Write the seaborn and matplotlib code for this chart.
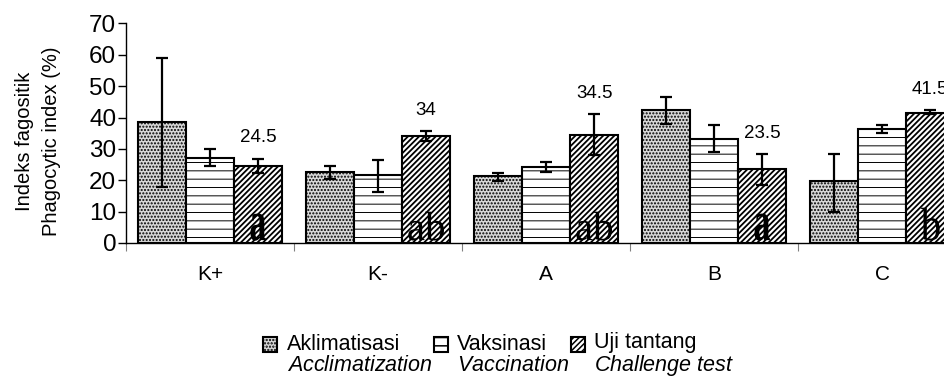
import numpy as np
import pandas as pd
import matplotlib
matplotlib.use('Agg')
import matplotlib.pyplot as plt
import seaborn as sns
from matplotlib.patches import Rectangle, PathPatch
from matplotlib.legend_handler import HandlerPatch
from matplotlib.textpath import TextPath
from matplotlib.font_manager import FontProperties
from matplotlib.transforms import Affine2D

# data
groups = ['K+', 'K-', 'A', 'B', 'C']
phases = ['Aklimatisasi', 'Vaksinasi', 'Uji tantang']
phases_en = ['Acclimatization', 'Vaccination', 'Challenge\\ test']

aklimatisasi = [38.5, 22.6, 21.2, 42.4, 19.6]
aklim_lo = [18.0, 20.4, 19.6, 37.8, 9.9]
aklim_hi = [59.0, 24.6, 22.3, 46.4, 28.5]

vaksinasi = [27.2, 21.7, 24.2, 33.1, 36.5]
vaks_lo = [24.4, 16.2, 22.6, 29.0, 35.0]
vaks_hi = [30.0, 26.5, 25.7, 37.5, 37.5]

uji_tantang = [24.5, 34.0, 34.5, 23.5, 41.5]
uji_lo = [22.4, 32.5, 28.1, 18.5, 41.0]
uji_hi = [26.9, 35.7, 41.0, 28.4, 42.3]

uji_labels = ['24.5', '34', '34.5', '23.5', '41.5']
notasi = ['a', 'ab', 'ab', 'a', 'b']

plt.rcParams['font.family'] = ['Liberation Sans', 'DejaVu Sans']
plt.rcParams['mathtext.fontset'] = 'custom'
plt.rcParams['mathtext.it'] = 'Liberation Sans:italic'
plt.rcParams['mathtext.rm'] = 'Liberation Sans'
plt.rcParams['hatch.linewidth'] = 1.1

df = pd.DataFrame({
    'group': groups * 3,
    'phase': np.repeat(phases, len(groups)),
    'value': aklimatisasi + vaksinasi + uji_tantang,
})
lows = [aklim_lo, vaks_lo, uji_lo]
highs = [aklim_hi, vaks_hi, uji_hi]
hatches = ['.....', '--', '//////']
faces = ['#d8d8d8', 'white', 'white']
hatch_lw = [1.0, 0.7, 1.3]
hatch_col = ['black', '0.3', 'black']

fig = plt.figure(figsize=(9.45, 3.85), dpi=100)
ax = fig.add_axes([0.1333, 0.369, 0.889, 0.570])

sns.barplot(data=df, x='group', y='value', hue='phase', order=groups,
            hue_order=phases, width=0.86, gap=0, errorbar=None,
            palette=['white'] * 3, edgecolor='black', linewidth=1.5,
            legend=False, ax=ax)

bar_conts = list(ax.containers)
for i, cont in enumerate(bar_conts):
    xs, hs = [], []
    for bar in cont.patches:
        bar.set_hatch(hatches[i])
        bar.set_facecolor(faces[i])
        bar.set_edgecolor('black')
        if hasattr(bar, 'set_hatch_linewidth'):
            bar.set_hatch_linewidth(hatch_lw[i])
        if hasattr(bar, 'set_hatchcolor'):
            bar.set_hatchcolor(hatch_col[i])
        xs.append(bar.get_x() + bar.get_width() / 2)
        hs.append(bar.get_height())
    hs = np.array(hs)
    yerr = [hs - np.array(lows[i]), np.array(highs[i]) - hs]
    ax.errorbar(xs, hs, yerr=yerr, fmt='none', ecolor='black',
                elinewidth=1.6, capsize=4.3, capthick=1.6, zorder=5)

ax.set_xlim(-0.5, 4.5)
ax.set_ylim(0, 70)
ax.set_yticks(range(0, 71, 10))
ax.set_xticks(np.arange(-0.5, 5, 1), minor=True)
ax.tick_params(axis='y', labelsize=17.5, length=6, width=1, pad=1)
ax.tick_params(axis='x', which='major', labelsize=15, length=0, pad=16)
ax.tick_params(axis='x', which='minor', length=6, width=0.8, color='0.5')
ax.set_xlabel('')
ax.set_ylabel('Indeks fagositik\nPhagocytic index (%)', fontsize=14.5,
              linespacing=1.55)
ax.yaxis.set_label_coords(-0.077, 0.465)
for s in ['top', 'right']:
    ax.spines[s].set_visible(False)
ax.spines['left'].set_linewidth(1.0)
ax.spines['bottom'].set_linewidth(1.0)

# value labels above challenge-test bars
uji_bars = bar_conts[2].patches
for bar, hi, lab in zip(uji_bars, uji_hi, uji_labels):
    ax.text(bar.get_x() + bar.get_width() / 2, hi + 6.6, lab, ha='center',
            va='center', fontsize=13.5, clip_on=False)

# significance letters (serif, stretched) inside challenge-test bars
letter_style = {'a': ('bold', 1.38, 0.83), 'ab': ('normal', 1.0, 1.0),
                'b': ('normal', 1.14, 1.0)}
k = fig.dpi / 72
for bar, s in zip(uji_bars, notasi):
    weight, sy, sx = letter_style[s]
    tp = TextPath((0, 0), s, size=29.5,
                  prop=FontProperties(family='Liberation Serif', weight=weight))
    ext = tp.get_extents()
    px, py = ax.transData.transform((bar.get_x() + bar.get_width() / 2, 0.9))
    tr = (Affine2D().translate(-(ext.x0 + ext.x1) / 2, 0)
          .scale(sx * k, sy * k).translate(px, py))
    ax.add_artist(PathPatch(tp, transform=tr, facecolor='black', lw=0,
                            zorder=4))


def top_square(legend, orig_handle, xdescent, ydescent, width, height,
               fontsize):
    return Rectangle((-xdescent, -ydescent + 0.5 * fontsize), width, height)


handles = [cont.patches[0] for cont in bar_conts]
labels = [f'{p}\n$\\mathit{{{e}}}$' for p, e in zip(phases, phases_en)]
leg = fig.legend(handles, labels, loc='center', bbox_to_anchor=(0.528, 0.078),
                 ncol=3, frameon=False, fontsize=15.5, handlelength=0.65,
                 handleheight=0.65, handletextpad=0.45, columnspacing=0.05,
                 borderpad=0, handler_map={Rectangle: HandlerPatch(
                     patch_func=top_square)})
for t in leg.get_texts():
    t.set_linespacing(1.05)

fig.savefig('out.png', dpi=100)
